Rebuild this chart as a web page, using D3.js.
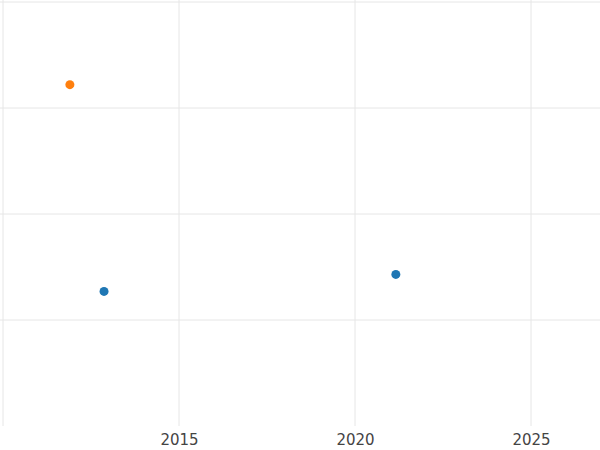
<!DOCTYPE html>
<html><head><meta charset="utf-8">
<script src="https://cdn.jsdelivr.net/npm/d3@7"></script>
<style>body{margin:0;background:#fff}</style></head>
<body><svg id="c" width="600" height="450"></svg>
<script>
const years = [2011.9, 2012.87, 2021.16];
const values = [3.22, 1.27, 1.43];
const series = ["orange", "blue", "blue"];
const xTicks = [2010, 2015, 2020, 2025];
const yTicks = [1, 2, 3, 4];
const colors = {orange: "#ff7f0e", blue: "#1f77b4"};

const svg = d3.select("#c");
const x = d3.scaleLinear().domain([2010, 2026.96]).range([3, 600]);
const y = d3.scaleLinear().domain([0, 4]).range([426, 2]);

svg.append("g").selectAll("line").data(yTicks).join("line")
  .attr("x1", 0).attr("x2", 600).attr("y1", d => y(d)).attr("y2", d => y(d))
  .attr("stroke", "#e6e6e6").attr("stroke-width", 1);
svg.append("g").selectAll("line").data(xTicks).join("line")
  .attr("x1", d => x(d)).attr("x2", d => x(d)).attr("y1", 0).attr("y2", 426)
  .attr("stroke", "#e6e6e6").attr("stroke-width", 1);

const ax = svg.append("g").attr("transform", "translate(0,426)")
  .call(d3.axisBottom(x).tickValues(xTicks.filter(d => d > 2010)).tickFormat(d3.format("d")).tickSize(0).tickPadding(8));
ax.select(".domain").remove();
ax.selectAll("text").attr("font-family", "DejaVu Sans").attr("font-size", 15).attr("fill", "#444");

svg.append("g").selectAll("circle").data(years).join("circle")
  .attr("cx", d => x(d)).attr("cy", (d, i) => y(values[i])).attr("r", 4.5)
  .attr("fill", (d, i) => colors[series[i]]);
</script></body></html>
